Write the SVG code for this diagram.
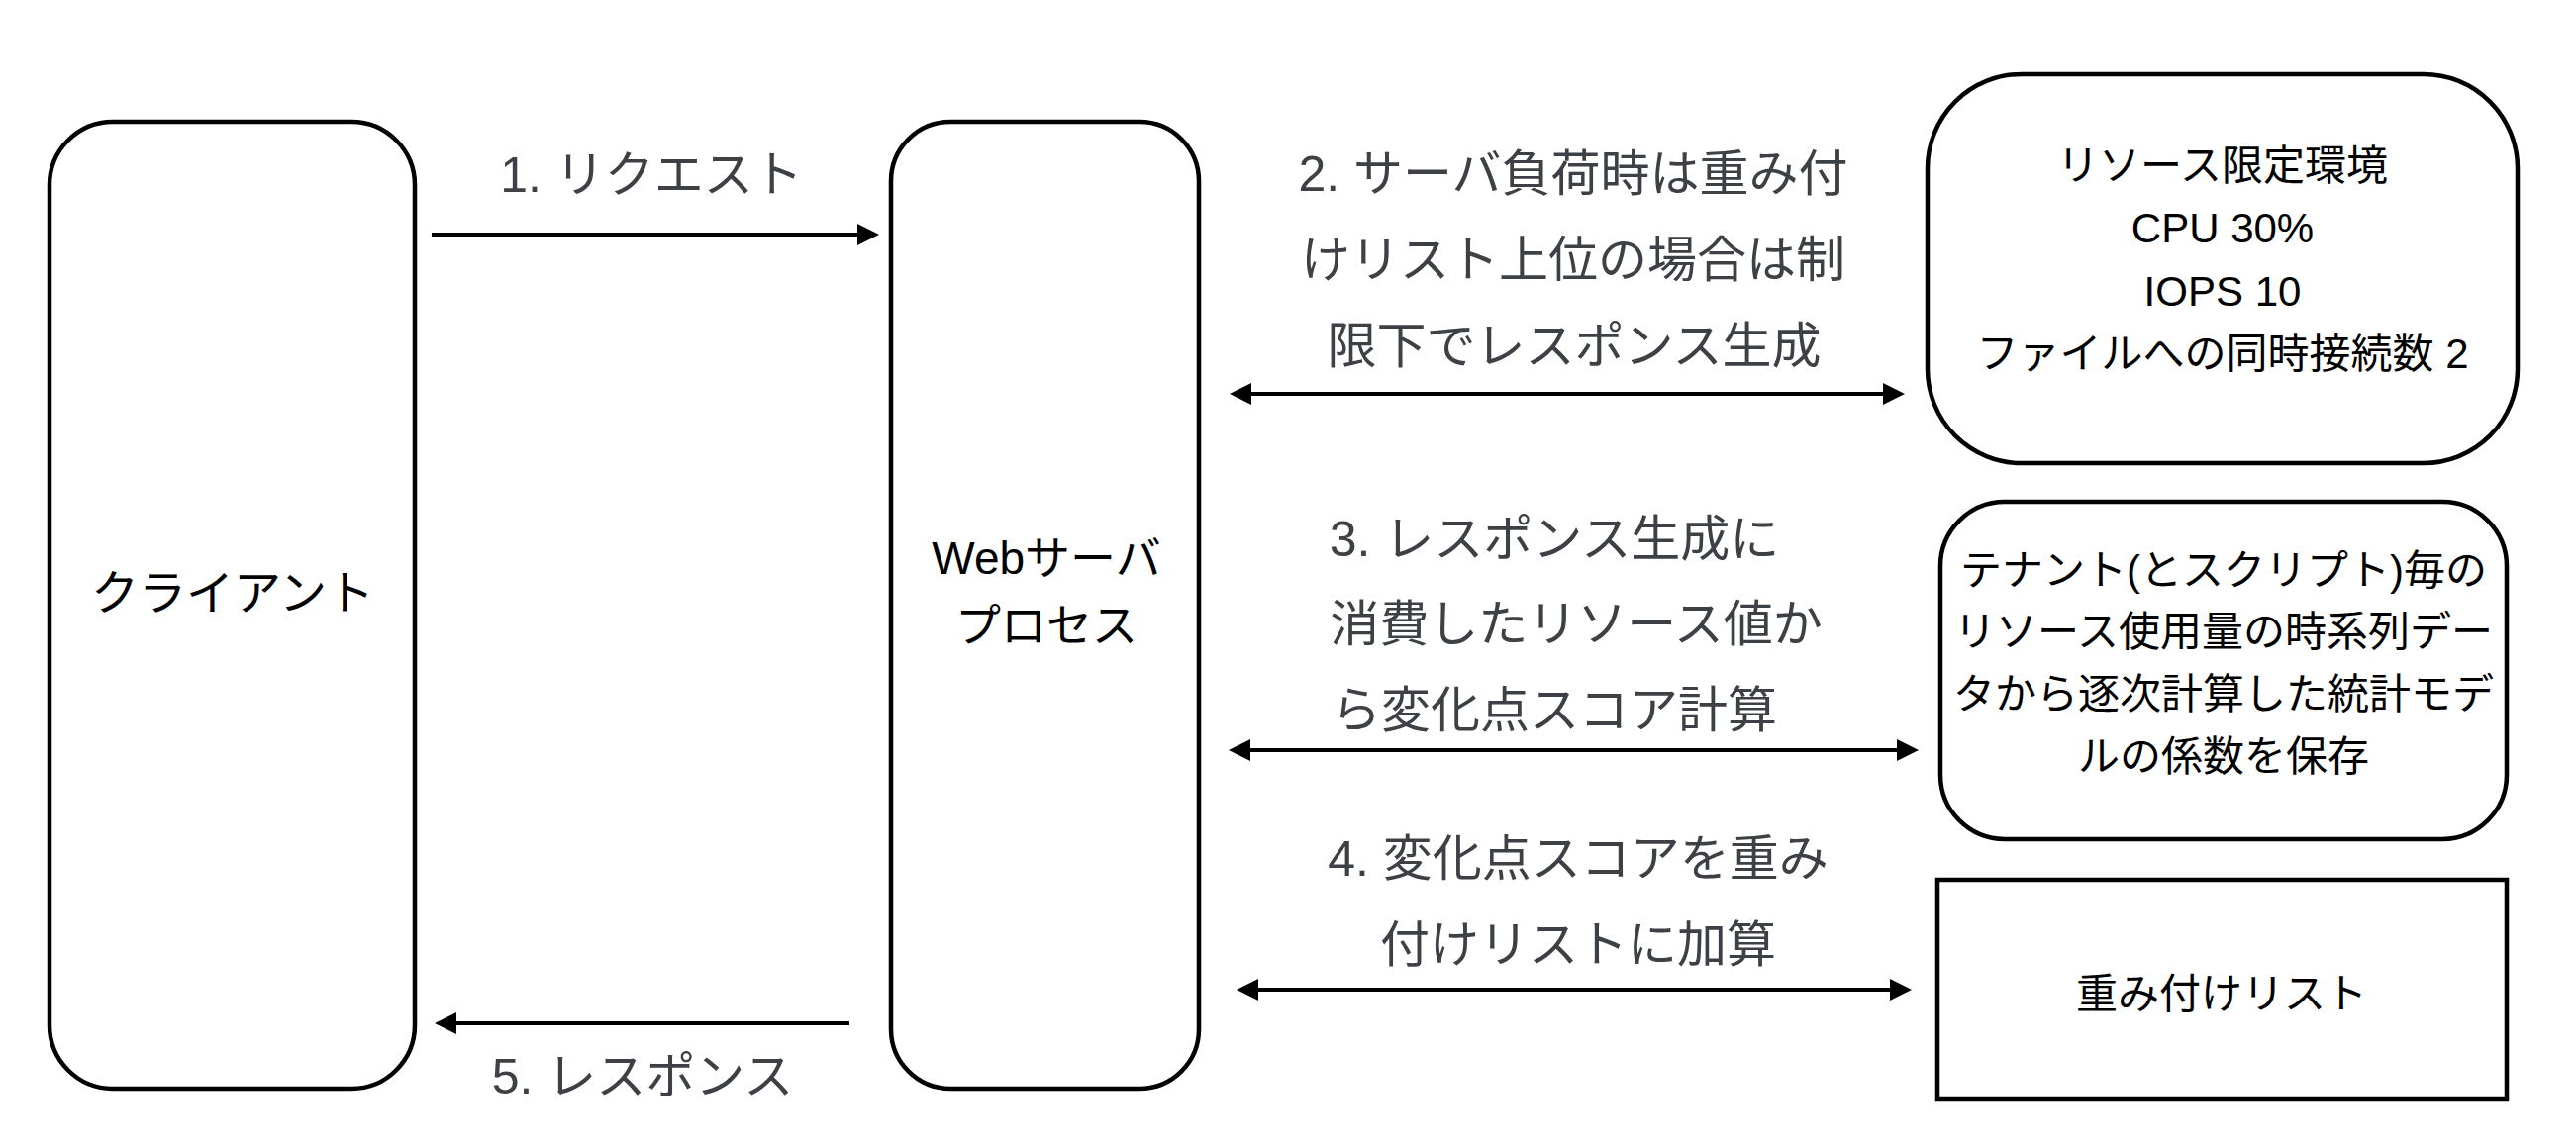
<svg xmlns="http://www.w3.org/2000/svg" width="2602" height="1156" viewBox="0 0 2602 1156">
  <style>
    .box { fill: #ffffff; stroke: #000000; stroke-width: 4.5; }
    .ntext { font-family: "Liberation Sans", "Noto Sans CJK JP", sans-serif; fill: #000000; text-anchor: middle; }
    .ltext { font-family: "Liberation Sans", "Noto Sans CJK JP", sans-serif; fill: #3d4045; text-anchor: middle; font-size: 50px; }
    .conn { stroke: #000000; stroke-width: 4; fill: none; }
  </style>
  <defs>
    <marker id="ah" markerUnits="userSpaceOnUse" markerWidth="22" markerHeight="22" refX="12" refY="11" orient="auto-start-reverse">
      <path d="M0,0 L22,11 L0,22 z" fill="#000000"/>
    </marker>
  </defs>
  <rect width="2602" height="1156" fill="#ffffff"/>

  <g id="client">
    <rect class="box" x="50" y="123" width="369" height="977" rx="64" ry="64"/>
    <text class="ntext" x="235" y="616" font-size="48">クライアント</text>
  </g>

  <g id="webserver">
    <rect class="box" x="900" y="123" width="311" height="977" rx="60" ry="60"/>
    <text class="ntext" x="1057" y="580" font-size="46">Webサーバ</text>
    <text class="ntext" x="1057" y="648" font-size="46">プロセス</text>
  </g>

  <g id="resource-env">
    <rect class="box" x="1947" y="75" width="596" height="393" rx="95" ry="95"/>
    <text class="ntext" x="2245" y="182" font-size="42">リソース限定環境</text>
    <text class="ntext" x="2245" y="245" font-size="42">CPU 30%</text>
    <text class="ntext" x="2245" y="309" font-size="42">IOPS 10</text>
    <text class="ntext" x="2245" y="372" font-size="42">ファイルへの同時接続数 2</text>
  </g>

  <g id="stat-model">
    <rect class="box" x="1960" y="507" width="572" height="341" rx="65" ry="65"/>
    <text class="ntext" x="2246" y="591" font-size="42">テナント(とスクリプト)毎の</text>
    <text class="ntext" x="2246" y="653" font-size="42">リソース使用量の時系列デー</text>
    <text class="ntext" x="2246" y="716" font-size="42">タから逐次計算した統計モデ</text>
    <text class="ntext" x="2246" y="779" font-size="42">ルの係数を保存</text>
  </g>

  <g id="weight-list">
    <rect class="box" x="1957" y="889" width="575" height="222" stroke-width="5"/>
    <text class="ntext" x="2244" y="1019" font-size="42">重み付けリスト</text>
  </g>

  <g id="connectors">
    <line class="conn" x1="436" y1="237" x2="878" y2="237" marker-end="url(#ah)"/>
    <line class="conn" x1="1252" y1="398" x2="1914" y2="398" marker-start="url(#ah)" marker-end="url(#ah)"/>
    <line class="conn" x1="1251" y1="758" x2="1928" y2="758" marker-start="url(#ah)" marker-end="url(#ah)"/>
    <line class="conn" x1="1259" y1="1000" x2="1921" y2="1000" marker-start="url(#ah)" marker-end="url(#ah)"/>
    <line class="conn" x1="858" y1="1034" x2="449" y2="1034" marker-end="url(#ah)"/>

    <text class="ltext" x="658" y="194">1. リクエスト</text>

    <text class="ltext" x="1589" y="193">2. サーバ負荷時は重み付</text>
    <text class="ltext" x="1589" y="280">けリスト上位の場合は制</text>
    <text class="ltext" x="1590" y="367">限下でレスポンス生成</text>

    <text class="ltext" x="1570" y="562">3. レスポンス生成に</text>
    <text class="ltext" x="1592" y="648">消費したリソース値か</text>
    <text class="ltext" x="1570" y="735">ら変化点スコア計算</text>

    <text class="ltext" x="1594" y="885">4. 変化点スコアを重み</text>
    <text class="ltext" x="1594" y="972">付けリストに加算</text>

    <text class="ltext" x="649" y="1105">5. レスポンス</text>
  </g>
</svg>
